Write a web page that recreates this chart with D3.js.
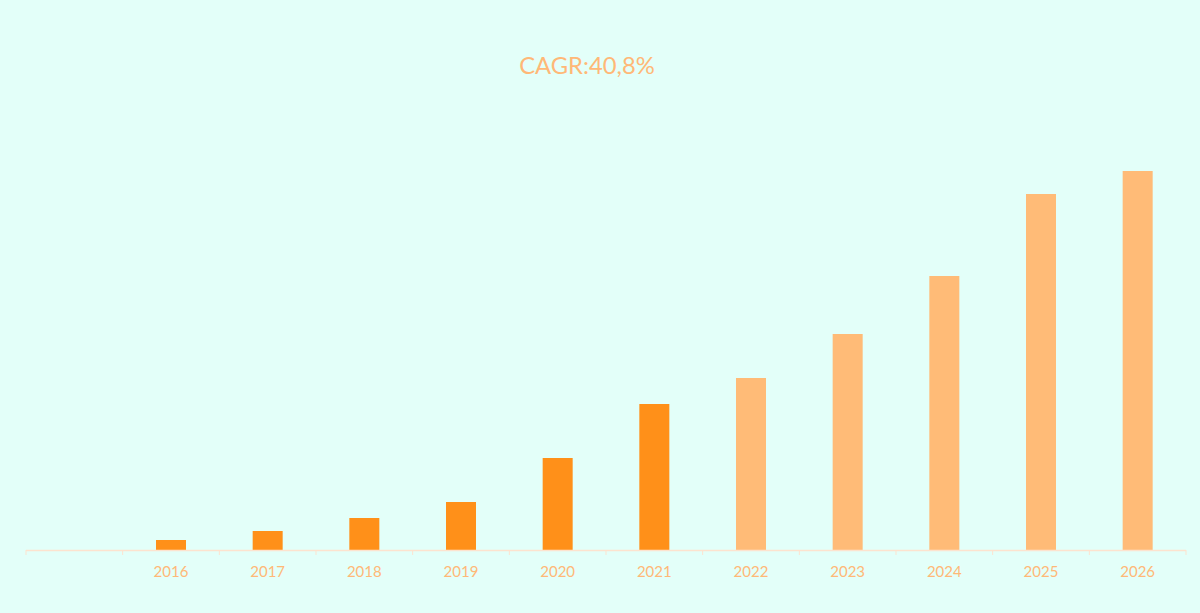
<!DOCTYPE html>
<html><head><meta charset="utf-8">
<script src="https://cdn.jsdelivr.net/npm/d3@7"></script>
<style>html,body{margin:0;padding:0;background:#e3fff9;}</style>
</head><body>
<svg id="chart" width="1200" height="613"></svg>
<script>
const categories = ["", "2016", "2017", "2018", "2019", "2020", "2021", "2022", "2023", "2024", "2025", "2026"];
const values = [null, 10, 19, 32, 48, 92, 146, 172, 216, 274, 356, 379];
const forecastFrom = "2022";
const titleText = "CAGR:40,8%";

const W = 1200, H = 613;
const margin = {left: 26, right: 14, top: 150, bottom: 63};
const svg = d3.select("#chart");
svg.append("rect").attr("width", W).attr("height", H).attr("fill", "#e3fff9");

const xTicks = d3.scaleBand().domain(categories).range([margin.left, W - margin.right]);
const y = d3.scaleLinear().domain([0, 400]).range([H - margin.bottom, margin.top]);

const data = categories.map((c, i) => ({c, v: values[i]})).filter(d => d.v != null);
const fIdx = categories.indexOf(forecastFrom);

svg.append("g").selectAll("rect").data(data).join("rect")
  .attr("x", d => xTicks(d.c) + xTicks.bandwidth() / 2 - 15)
  .attr("width", 30)
  .attr("y", d => y(d.v))
  .attr("height", d => y(0) - y(d.v))
  .attr("fill", d => categories.indexOf(d.c) >= fIdx ? "#ffbb77" : "#ff9019");

// axis
const axisG = svg.append("g").attr("transform", `translate(0,${y(0)})`);
axisG.append("line").attr("x1", margin.left).attr("x2", W - margin.right)
  .attr("y1", 0.5).attr("y2", 0.5).attr("stroke", "#fde3cf").attr("stroke-width", 1.5);
const tickPos = categories.map(c => xTicks(c)).concat([W - margin.right]);
axisG.selectAll("line.tick").data(tickPos).join("line").attr("class", "tick")
  .attr("x1", d => d).attr("x2", d => d).attr("y1", 0).attr("y2", 5)
  .attr("stroke", "#fde3cf").attr("stroke-width", 1);
axisG.selectAll("text").data(categories).join("text")
  .attr("x", d => xTicks(d) + xTicks.bandwidth() / 2)
  .attr("y", 27)
  .attr("text-anchor", "middle")
  .attr("font-family", "Lato, 'Open Sans', sans-serif")
  .attr("font-size", 15)
  .attr("fill", "#ffb877")
  .text(d => d);

svg.append("text").attr("x", 587).attr("y", 74).attr("text-anchor", "middle")
  .attr("font-family", "Lato, 'Open Sans', sans-serif").attr("font-size", 23.8)
  .attr("fill", "#ffb877").text(titleText);
</script>
</body></html>
